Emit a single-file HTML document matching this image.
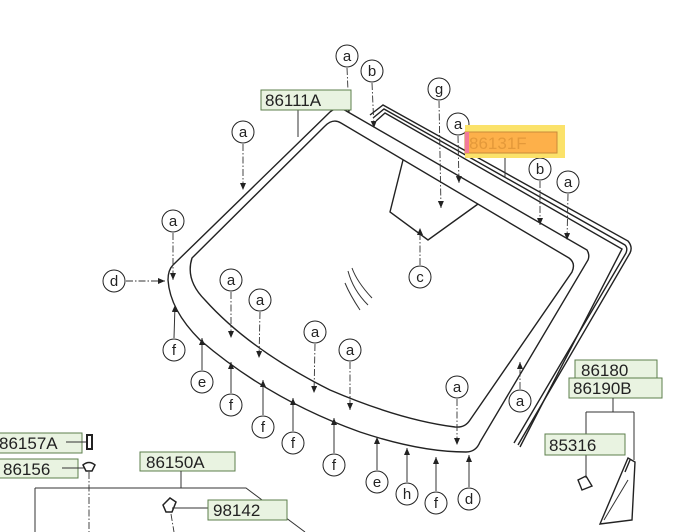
<!DOCTYPE html>
<html><head><meta charset="utf-8"><style>
html,body{margin:0;padding:0;background:#fff;}
svg{display:block;}
text{font-family:"Liberation Sans",sans-serif;}
.c{fill:#fff;stroke:#222;stroke-width:1;}
.ct{font-size:15px;fill:#222;text-anchor:middle;}
.ld{stroke:#333;stroke-width:0.9;fill:none;stroke-dasharray:7 2 1.5 2;}
.sl{stroke:#333;stroke-width:1;fill:none;}
.bx{fill:#e9f3e1;stroke:#5d7f4c;stroke-width:1;}
.bt{font-size:17px;fill:#222;}
.g{fill:none;stroke:#222;stroke-width:1.4;}
</style></head><body>
<svg width="687" height="532" viewBox="0 0 687 532" xmlns="http://www.w3.org/2000/svg">
<defs><marker id="ar" markerWidth="8" markerHeight="8" refX="7" refY="3" orient="auto" markerUnits="userSpaceOnUse"><path d="M0,0 L7,3 L0,6 z" fill="#222"/></marker></defs>

<path class="g" d="M173,265 L330,112 Q338,105 348,112 L587,250 Q590,255 588,260 L480,442 Q476,452 466,452 Q420,452 360,432 Q270,400 200,340 Q170,310 168,280 Q168,270 173,265 Z"/>
<path class="g" d="M192,258 L325,126 Q333,118 341,123 L569,258 Q576,263 572,272 L470,420 Q465,428 455,427 Q400,420 330,390 Q250,350 205,300 Q185,280 192,258 Z"/>
<path class="g" d="M403,160 L390,212 L428,240 L478,204"/>
<path class="g" stroke-width="1" d="M370,115 L383,105 L628,241 Q633,247 630,253 L518,445"/>
<path class="g" stroke-width="1" d="M373,118 L384,109 L625,245 Q628,248 626,253 L514,443"/>
<path class="g" stroke-width="0.8" d="M376,121 L385,113 L622,249 L520,447"/>
<path class="sl" stroke="#666" d="M348,271 Q353,290 368,305 M352,268 Q357,282 372,298 M345,283 Q350,295 360,310"/>

<path class="g" stroke-width="1.2" d="M628,458 L635,462 L632,520 L600,524 Z M630,460 L625,472"/>
<path class="sl" d="M604,520 L628,480"/>
<path class="g" stroke-width="1.2" d="M578,480 L586,476 L592,486 L582,490 Z"/>

<g class="ld" marker-end="url(#ar)">
<path d="M347,68 L349,113"/><path d="M372,83 L374,128"/><path d="M243,144 L243,190"/>
<path d="M439,101 L441,208"/><path d="M458,136 L459,183"/><path d="M540,181 L540,225"/>
<path d="M568,194 L567,240"/><path d="M173,233 L173,280"/><path d="M126,281 L165,281"/>
<path d="M420,265 L420,228"/><path d="M231,292 L231,338"/><path d="M260,312 L259,358"/>
<path d="M315,344 L314,393"/><path d="M350,362 L350,410"/><path d="M457,399 L457,445"/>
<path d="M520,389 L520,362"/>
</g>
<g class="sl" marker-end="url(#ar)">
<path d="M174,338 L175,305"/><path d="M202,370 L202,338"/><path d="M231,393 L231,362"/>
<path d="M263,415 L263,380"/><path d="M293,431 L293,398"/><path d="M334,453 L334,418"/>
<path d="M377,470 L377,437"/><path d="M407,482 L407,448"/><path d="M436,491 L436,457"/>
<path d="M469,487 L469,455"/>
</g>
<path class="sl" d="M298,110 L298,137 M505,153 L505,178"/>

<g>
<circle class="c" cx="347" cy="56" r="11"/><text class="ct" x="347" y="61">a</text>
<circle class="c" cx="372" cy="71" r="11"/><text class="ct" x="372" y="76">b</text>
<circle class="c" cx="243" cy="132" r="11"/><text class="ct" x="243" y="137">a</text>
<circle class="c" cx="439" cy="89" r="11"/><text class="ct" x="439" y="94">g</text>
<circle class="c" cx="458" cy="124" r="11"/><text class="ct" x="458" y="129">a</text>
<circle class="c" cx="540" cy="169" r="11"/><text class="ct" x="540" y="174">b</text>
<circle class="c" cx="568" cy="182" r="11"/><text class="ct" x="568" y="187">a</text>
<circle class="c" cx="173" cy="221" r="11"/><text class="ct" x="173" y="226">a</text>
<circle class="c" cx="114" cy="281" r="11"/><text class="ct" x="114" y="286">d</text>
<circle class="c" cx="420" cy="277" r="11"/><text class="ct" x="420" y="282">c</text>
<circle class="c" cx="231" cy="280" r="11"/><text class="ct" x="231" y="285">a</text>
<circle class="c" cx="260" cy="300" r="11"/><text class="ct" x="260" y="305">a</text>
<circle class="c" cx="315" cy="332" r="11"/><text class="ct" x="315" y="337">a</text>
<circle class="c" cx="350" cy="350" r="11"/><text class="ct" x="350" y="355">a</text>
<circle class="c" cx="457" cy="387" r="11"/><text class="ct" x="457" y="392">a</text>
<circle class="c" cx="520" cy="401" r="11"/><text class="ct" x="520" y="406">a</text>
<circle class="c" cx="174" cy="350" r="11"/><text class="ct" x="174" y="355">f</text>
<circle class="c" cx="202" cy="382" r="11"/><text class="ct" x="202" y="387">e</text>
<circle class="c" cx="231" cy="405" r="11"/><text class="ct" x="231" y="410">f</text>
<circle class="c" cx="263" cy="427" r="11"/><text class="ct" x="263" y="432">f</text>
<circle class="c" cx="293" cy="443" r="11"/><text class="ct" x="293" y="448">f</text>
<circle class="c" cx="334" cy="465" r="11"/><text class="ct" x="334" y="470">f</text>
<circle class="c" cx="377" cy="482" r="11"/><text class="ct" x="377" y="487">e</text>
<circle class="c" cx="407" cy="494" r="11"/><text class="ct" x="407" y="499">h</text>
<circle class="c" cx="436" cy="503" r="11"/><text class="ct" x="436" y="508">f</text>
<circle class="c" cx="469" cy="499" r="11"/><text class="ct" x="469" y="504">d</text>
</g>

<rect class="bx" x="261" y="90" width="90" height="20"/><text class="bt" x="265" y="106">86111A</text>
<rect x="465" y="125" width="100" height="33" fill="#fbe26a"/>
<rect x="465" y="132" width="92" height="21" fill="#fdb04a" stroke="#c98a3a"/>
<rect x="465" y="132" width="4" height="21" fill="#f27a9a"/>
<text class="bt" x="469" y="149" style="fill:#e4993a">86131F</text>

<rect class="bx" x="575" y="360" width="82" height="19"/><text class="bt" x="581" y="376">86180</text>
<rect class="bx" x="569" y="378" width="93" height="20"/><text class="bt" x="573" y="394">86190B</text>
<path class="sl" d="M613,398 L613,412 M586,412 L634,412 M586,412 L586,434 M634,412 L634,460 M586,455 L586,478"/>
<rect class="bx" x="545" y="434" width="80" height="21"/><text class="bt" x="549" y="451">85316</text>

<rect class="bx" x="-5" y="433" width="87" height="20"/><text class="bt" x="-1" y="449">86157A</text>
<path class="sl" d="M66,442 L86,442"/><rect x="87" y="435" width="5" height="14" fill="#fff" stroke="#222" stroke-width="2"/>
<rect class="bx" x="-5" y="459" width="83" height="19"/><text class="bt" x="3" y="475">86156</text>
<path class="sl" d="M62,468 L84,468"/><path d="M83,465 Q89,460 95,465 L92,471 L86,471 Z" fill="#fff" stroke="#222" stroke-width="1.5"/>
<path class="ld" d="M89,472 L89,532"/>

<rect class="bx" x="140" y="452" width="95" height="19"/><text class="bt" x="146" y="468">86150A</text>
<path class="sl" d="M181,471 L181,488 M35,488 L246,488 L305,532 M35,488 L35,532"/>
<path d="M163,505 L170,498 L176,502 L172,512 L166,512 Z" fill="#fff" stroke="#222" stroke-width="1.5"/>
<path class="sl" d="M172,508 L208,508"/><path class="ld" d="M171,514 L174,532"/>
<rect class="bx" x="208" y="500" width="79" height="20"/><text class="bt" x="213" y="516">98142</text>
</svg>
</body></html>
